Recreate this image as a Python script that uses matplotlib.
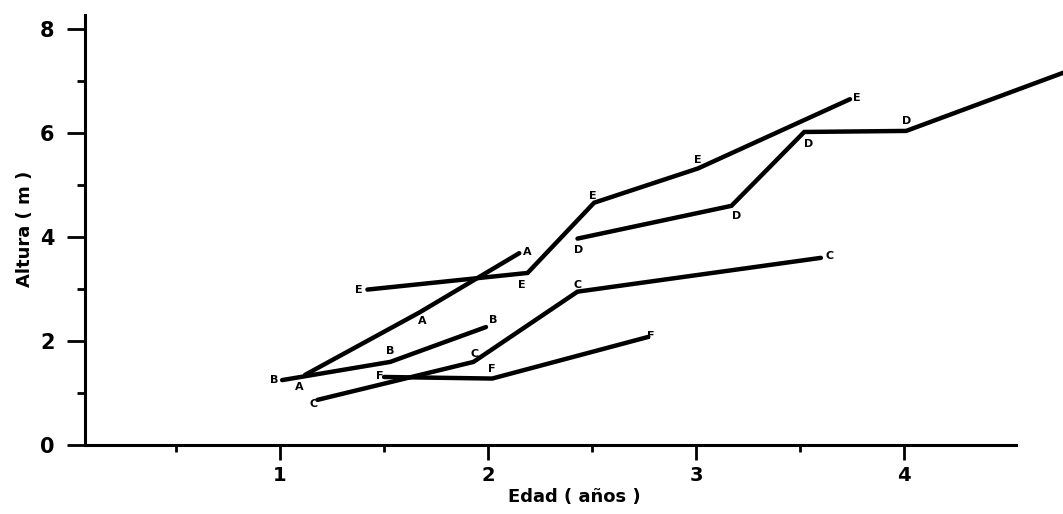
import matplotlib.pyplot as plt
from matplotlib.ticker import FixedLocator, MultipleLocator

plt.rcParams['font.family'] = ['DejaVu Sans']
plt.rcParams['font.weight'] = 'bold'

# datos: edad (anos) y altura (m) de cada arbol
a_x = [1.12, 1.67, 2.15]
a_y = [1.35, 2.55, 3.69]
b_x = [1.01, 1.53, 1.99]
b_y = [1.25, 1.60, 2.27]
c_x = [1.18, 1.93, 2.43, 3.60]
c_y = [0.87, 1.60, 2.95, 3.60]
f_x = [1.50, 2.02, 2.77]
f_y = [1.31, 1.28, 2.08]
e_x = [1.42, 2.19, 2.51, 3.01, 3.74]
e_y = [2.99, 3.31, 4.66, 5.32, 6.65]
d_x = [2.43, 3.17, 3.52, 4.01, 4.80]
d_y = [3.97, 4.60, 6.02, 6.04, 7.21]

series = [("A", a_x, a_y), ("B", b_x, b_y), ("C", c_x, c_y),
          ("F", f_x, f_y), ("E", e_x, e_y), ("D", d_x, d_y)]

# desplazamiento de cada letra (puntos), solo estilo
offsets = {
    "A": [(-4, -9), (2, -6), (6, 1)],
    "B": [(-6, 0), (0, 8), (5, 5)],
    "C": [(-3, -3), (1, 6), (0, 5), (6, 1)],
    "F": [(-3, 1), (0, 7), (2, 1)],
    "E": [(-6, 0), (-4, -9), (-1, 5), (0, 6), (5, 1)],
    "D": [(1, -8), (4, -7), (3, -9), (0, 7), None],
}

fig = plt.figure(figsize=(10.63, 5.14), dpi=100)
ax = fig.add_axes([0.08, 0.134, 0.92, 0.84])

for name, xs, ys in series:
    ax.plot(xs, ys, color="black", linewidth=3.2, solid_capstyle="round",
            solid_joinstyle="miter")
    for x, y, off in zip(xs, ys, offsets[name]):
        if off is None:
            continue
        ax.annotate(name, (x, y), xytext=off, textcoords="offset points",
                    ha="center", va="center", fontsize=8, fontweight="bold")

ax.set_xlim(0.0625, 4.764)
ax.set_ylim(0, 8.3)
ax.spines['top'].set_visible(False)
ax.spines['right'].set_visible(False)
ax.spines['left'].set_linewidth(2.2)
ax.spines['bottom'].set_linewidth(2.2)
ax.spines['left'].set_bounds(0, 8.27)
ax.spines['bottom'].set_bounds(0.0625, 4.54)

ax.set_xticks([1, 2, 3, 4])
ax.set_xticklabels(["1", "2", "3", "4"])
ax.xaxis.set_minor_locator(FixedLocator([0.5, 1.5, 2.5, 3.5]))
ax.set_yticks([0, 2, 4, 6, 8])
ax.set_yticklabels(["0", "2", "4", "6", "8"])
ax.yaxis.set_minor_locator(MultipleLocator(1))

ax.tick_params(axis='x', which='major', length=11, width=2, direction='out',
               labelsize=14, pad=4)
ax.tick_params(axis='x', which='minor', length=5, width=2, direction='out')
ax.tick_params(axis='y', which='major', length=13, width=2, direction='out',
               labelsize=15, pad=9)
ax.tick_params(axis='y', which='minor', length=6, width=2, direction='out')

ax.set_xlabel("Edad ( años )", fontsize=13, fontweight='bold', labelpad=2)
ax.set_ylabel("Altura ( m )", fontsize=13, fontweight='bold', labelpad=4)

fig.savefig("out.png", dpi=100)
